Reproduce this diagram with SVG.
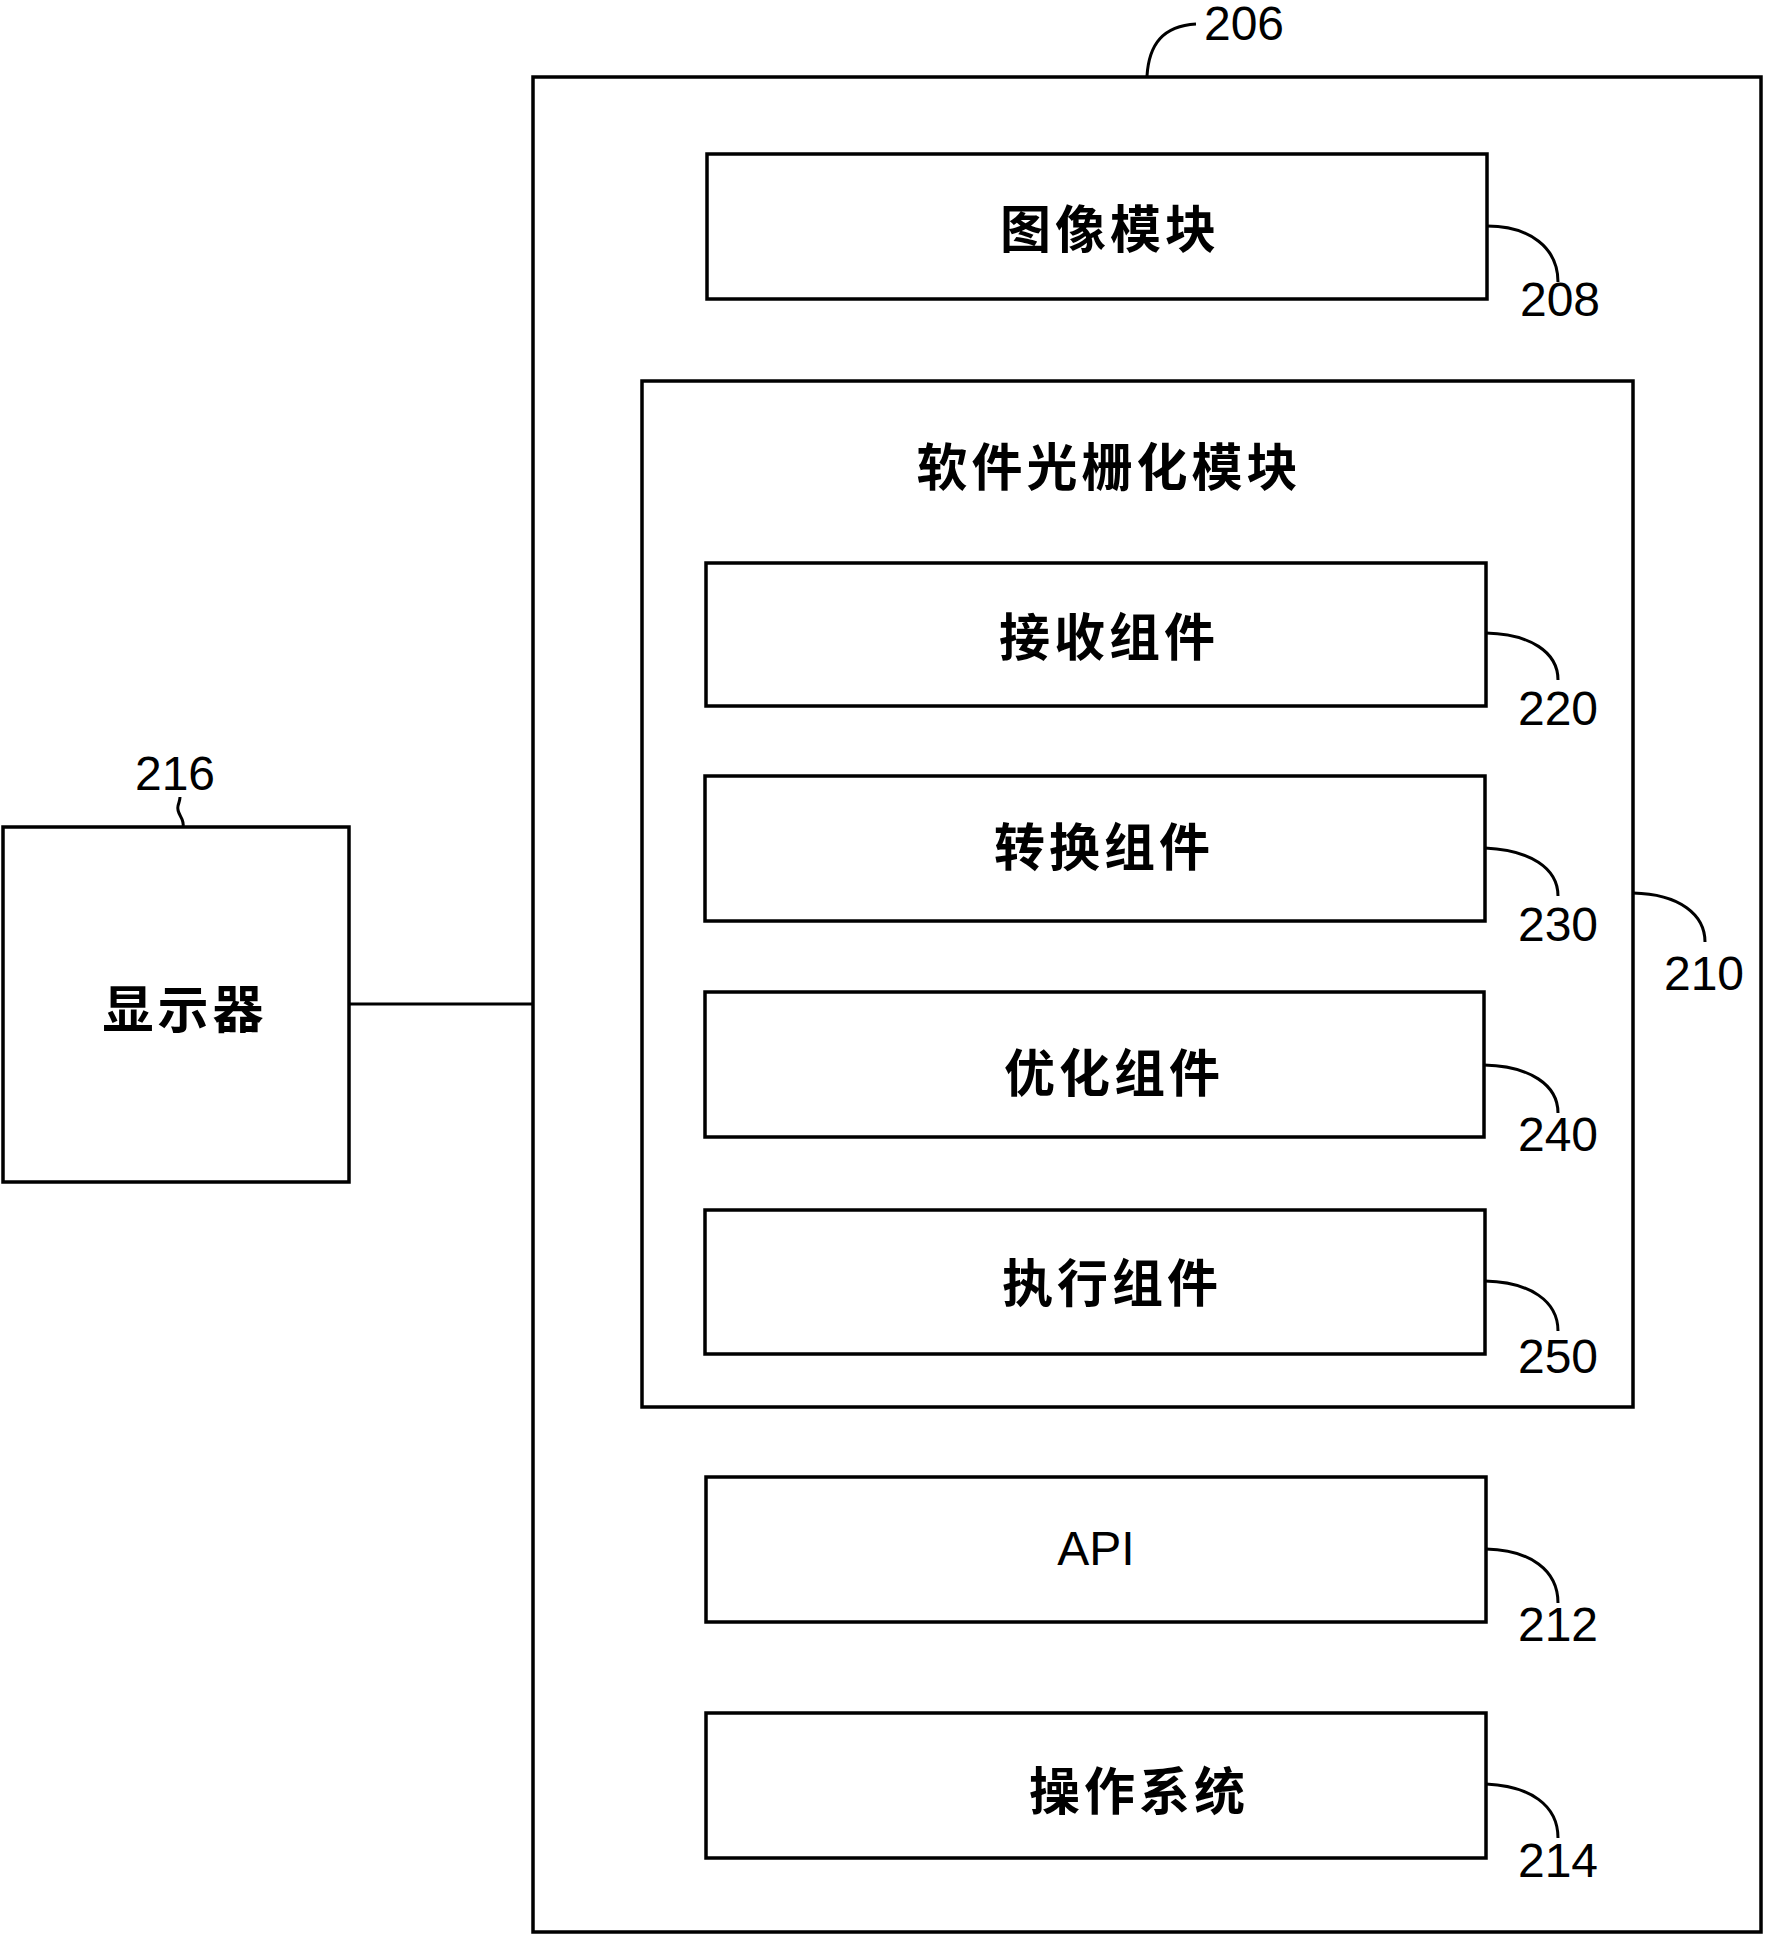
<svg xmlns="http://www.w3.org/2000/svg" width="1765" height="1936" viewBox="0 0 1765 1936">
<style>
.box{fill:#fff;stroke:#000;stroke-width:3.5}
.ld{fill:none;stroke:#000;stroke-width:3}
.cn{font-family:"Liberation Sans","Noto Sans CJK SC",sans-serif;font-weight:bold;font-size:51px;letter-spacing:4px;text-anchor:middle}
.num{font-family:"Liberation Sans",Arial,sans-serif;font-size:48px;text-anchor:middle}
.api{font-family:"Liberation Sans",Arial,sans-serif;font-size:48px;text-anchor:middle}
</style>
<rect width="1765" height="1936" fill="#fff"/>
<g id="n206">
<rect class="box" x="533" y="77" width="1228" height="1855"/>
<text class="num" x="1244" y="40" font-size="46">206</text>
</g>
<g id="n208">
<rect class="box" x="707" y="154" width="780" height="145"/>
<text class="cn" x="1110" y="248">图像模块</text>
<text class="num" x="1560" y="316">208</text>
</g>
<g id="n210">
<rect class="box" x="642" y="381" width="991" height="1026"/>
<text class="cn" x="1109" y="486">软件光栅化模块</text>
<text class="num" x="1704" y="990">210</text>
</g>
<g id="n220">
<rect class="box" x="706" y="563" width="780" height="143"/>
<text class="cn" x="1109" y="656">接收组件</text>
<text class="num" x="1558" y="725">220</text>
</g>
<g id="n230">
<rect class="box" x="705" y="776" width="780" height="145"/>
<text class="cn" x="1104" y="866">转换组件</text>
<text class="num" x="1558" y="941">230</text>
</g>
<g id="n240">
<rect class="box" x="705" y="992" width="779" height="145"/>
<text class="cn" x="1114" y="1092">优化组件</text>
<text class="num" x="1558" y="1151">240</text>
</g>
<g id="n250">
<rect class="box" x="705" y="1210" width="780" height="144"/>
<text class="cn" x="1112" y="1302">执行组件</text>
<text class="num" x="1558" y="1373">250</text>
</g>
<g id="n212">
<rect class="box" x="706" y="1477" width="780" height="145"/>
<text class="api" x="1096" y="1565">API</text>
<text class="num" x="1558" y="1641">212</text>
</g>
<g id="n214">
<rect class="box" x="706" y="1713" width="780" height="145"/>
<text class="cn" x="1139" y="1810">操作系统</text>
<text class="num" x="1558" y="1877">214</text>
</g>
<g id="n216">
<rect class="box" x="3" y="827" width="346" height="355"/>
<text class="cn" x="185" y="1028">显示器</text>
<text class="num" x="175" y="790">216</text>
</g>
<g id="connectors">
<line class="ld" x1="349" y1="1004" x2="533" y2="1004"/>
<path class="ld" d="M1147,76 C1149,44 1163,26 1196,24"/>
<path class="ld" d="M1487,226 C1530,226 1558,248 1558,282"/>
<path class="ld" d="M1486,633 C1530,634 1558,652 1558,680"/>
<path class="ld" d="M1485,848 C1530,850 1558,868 1558,896"/>
<path class="ld" d="M1484,1065 C1530,1066 1558,1085 1558,1113"/>
<path class="ld" d="M1485,1281 C1530,1282 1558,1301 1558,1331"/>
<path class="ld" d="M1486,1549 C1530,1550 1558,1570 1558,1603"/>
<path class="ld" d="M1486,1784 C1530,1786 1558,1805 1558,1838"/>
<path class="ld" d="M1633,893 C1680,894 1705,915 1705,942"/>
<path class="ld" d="M183,827 C185,818 176,814 178,806 C179,802 180,800 180,797"/>
</g>
</svg>
